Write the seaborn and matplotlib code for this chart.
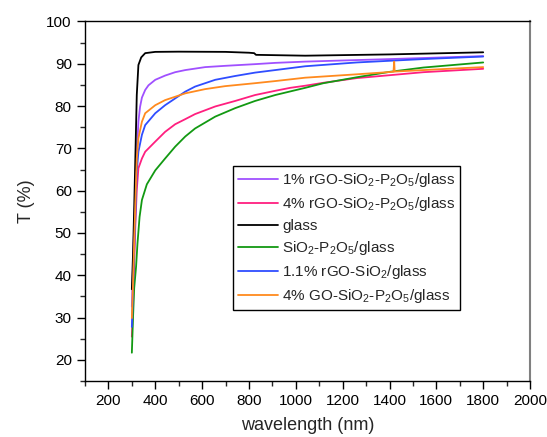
import numpy as np
import pandas as pd
import matplotlib
matplotlib.use("Agg")
import matplotlib.pyplot as plt
from matplotlib.ticker import MultipleLocator
import seaborn as sns

# ---- data ----
labels = [
    "1% rGO-SiO$_2$-P$_2$O$_5$/glass",
    "4% rGO-SiO$_2$-P$_2$O$_5$/glass",
    "glass",
    "SiO$_2$-P$_2$O$_5$/glass",
    "1.1% rGO-SiO$_2$/glass",
    "4% GO-SiO$_2$-P$_2$O$_5$/glass",
]
colors = ["#a050ff", "#ff1f7f", "#000000", "#129912", "#2f4dff", "#ff8a1e"]

wl_purple = [300, 305, 310, 315, 321, 328, 335, 343, 357, 371, 400, 442, 485, 528, 613, 698, 826, 912, 1040, 1403, 1800]
t_purple = [32.6, 42, 52, 60, 68.4, 76.3, 79.8, 82.0, 83.8, 84.9, 86.2, 87.2, 88.0, 88.5, 89.2, 89.5, 89.9, 90.2, 90.5, 91.1, 91.8]

wl_pink = [300, 305, 310, 315, 321, 328, 343, 357, 400, 442, 485, 528, 570, 656, 741, 826, 912, 976, 1040, 1118, 1260, 1403, 1545, 1800]
t_pink = [25.5, 33, 43, 52, 60.2, 65.3, 67.6, 69.2, 71.6, 73.9, 75.7, 76.9, 78.1, 79.9, 81.2, 82.6, 83.6, 84.3, 84.8, 85.5, 86.6, 87.3, 88.0, 88.8]

wl_glass = [300, 305, 310, 315, 321, 328, 340, 357, 400, 500, 700, 800, 822, 830, 1040, 1400, 1800]
t_glass = [36.7, 45, 56, 68, 82.6, 89.7, 91.5, 92.5, 92.8, 92.85, 92.8, 92.6, 92.5, 92.1, 91.9, 92.2, 92.7]

wl_green = [300, 305, 310, 318, 324, 333, 343, 364, 400, 442, 485, 528, 570, 656, 741, 826, 912, 1040, 1118, 1260, 1403, 1545, 1800]
t_green = [21.7, 30, 37, 42, 47.5, 53.8, 57.8, 61.5, 64.8, 67.6, 70.4, 72.8, 74.7, 77.5, 79.5, 81.2, 82.6, 84.3, 85.4, 86.8, 88.1, 89.1, 90.3]

wl_blue = [300, 305, 310, 315, 321, 328, 343, 357, 400, 442, 485, 528, 570, 656, 741, 826, 912, 1040, 1260, 1545, 1800]
t_blue = [27.8, 36, 46, 54, 64.5, 69.2, 73.2, 75.5, 78.3, 80.2, 81.8, 83.4, 84.6, 86.2, 87.1, 87.9, 88.5, 89.4, 90.3, 91.1, 91.7]

wl_orange = [300, 305, 310, 315, 321, 328, 343, 357, 400, 442, 485, 528, 613, 698, 826, 912, 1040, 1260, 1417, 1420, 1422, 1616, 1800]
t_orange = [29.9, 38, 48, 57, 67.6, 72.4, 76.3, 78.3, 80.2, 81.4, 82.2, 83.0, 84.0, 84.7, 85.4, 85.9, 86.7, 87.5, 88.1, 90.5, 88.15, 88.7, 89.2]

series_wl = [wl_purple, wl_pink, wl_glass, wl_green, wl_blue, wl_orange]
series_t = [t_purple, t_pink, t_glass, t_green, t_blue, t_orange]

rows = []
for lab, wl, t in zip(labels, series_wl, series_t):
    for w, v in zip(wl, t):
        rows.append({"wavelength": w, "T": v, "sample": lab})
df = pd.DataFrame(rows)

# ---- style ----
sns.set_style("ticks")
plt.rcParams["font.family"] = ["Liberation Sans", "DejaVu Sans"]
plt.rcParams["mathtext.fontset"] = "custom"
plt.rcParams["mathtext.rm"] = "Liberation Sans"
plt.rcParams["mathtext.it"] = "Liberation Sans:italic"
plt.rcParams["mathtext.default"] = "regular"

fig = plt.figure(figsize=(5.47, 4.37), dpi=100)
ax = fig.add_axes([0.1554, 0.128, 0.969 - 0.1554, 0.951 - 0.128])

sns.lineplot(data=df, x="wavelength", y="T", hue="sample", hue_order=labels,
             palette=colors, sort=False, estimator=None, units="sample",
             linewidth=1.3, ax=ax)

ax.set_xlim(100, 2000)
ax.set_ylim(15, 100)
ax.xaxis.set_major_locator(MultipleLocator(200))
ax.xaxis.set_minor_locator(MultipleLocator(100))
ax.yaxis.set_major_locator(MultipleLocator(10))
ax.yaxis.set_minor_locator(MultipleLocator(5))
ax.set_xticks(np.arange(200, 2001, 200))
ax.tick_params(which="major", length=6, width=1, direction="out", labelsize=11, colors="black")
ax.tick_params(which="minor", length=3.5, width=1, direction="out")
ax.tick_params(top=False, right=False, which="both")

for s in ["left", "bottom", "top"]:
    ax.spines[s].set_color("black")
    ax.spines[s].set_linewidth(1.0)
ax.spines["right"].set_color("#808080")
ax.spines["right"].set_linewidth(1.5)

ax.set_xlabel("wavelength (nm)", fontsize=13, labelpad=6)
ax.set_ylabel("T (%)", fontsize=13, labelpad=8)

leg = ax.legend(loc="upper left", bbox_to_anchor=(0.333, 0.597), fontsize=11,
                frameon=True, fancybox=False, framealpha=1, edgecolor="black",
                handlelength=2.6, handletextpad=0.3, borderpad=0.3,
                labelspacing=0.4, borderaxespad=0)
leg.get_frame().set_linewidth(1.0)
for line in leg.get_lines():
    line.set_linewidth(1.3)

fig.savefig("out.png", dpi=100)
